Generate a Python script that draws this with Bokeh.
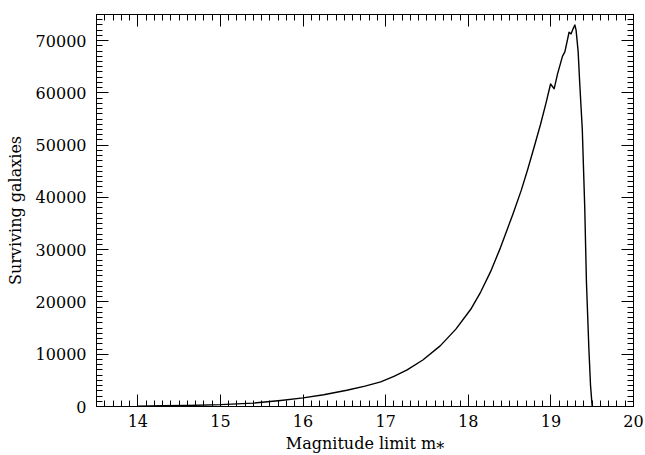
from bokeh.plotting import figure
from bokeh.models import (Range1d, LinearAxis, SingleIntervalTicker,
                          NumeralTickFormatter, CustomJSTickFormatter)
from bokeh.embed import file_html
from bokeh.resources import INLINE

# Data
mag = [14.0, 14.3, 14.6, 15.0, 15.4, 15.73, 16.0, 16.25, 16.53, 16.75, 16.94,
       17.1, 17.26, 17.45, 17.66, 17.85, 18.03, 18.15, 18.27, 18.39, 18.54,
       18.64, 18.72, 18.8, 18.875, 18.94, 18.996, 19.04, 19.08, 19.14, 19.17,
       19.22, 19.245, 19.27, 19.29, 19.305, 19.33, 19.35, 19.38, 19.41, 19.43,
       19.46, 19.48, 19.5]
galaxies = [80, 130, 200, 350, 650, 1150, 1650, 2250, 3100, 3900, 4700,
            5750, 7000, 8900, 11600, 14800, 18600, 21900, 25800, 30400, 36800,
            41300, 45400, 49800, 54000, 58000, 61700, 60800, 63600, 67000, 67900,
            71600, 71300, 72300, 73000, 72000, 67900, 61600, 53100, 38000, 24000,
            11000, 4000, 0]

x_label = "Magnitude limit m\u204e"
y_label = "Surviving galaxies"

FONT = "DejaVu Serif"

p = figure(width=645, height=455, output_backend="svg", toolbar_location=None,
           x_range=Range1d(13.5, 20), y_range=Range1d(0, 75000),
           min_border_left=96, min_border_right=12, min_border_top=14,
           min_border_bottom=47, x_axis_location=None, y_axis_location=None)
p.title = None
p.grid.visible = False
p.outline_line_color = "black"
p.outline_line_width = 1
p.background_fill_color = "white"
p.border_fill_color = "white"

p.line(mag, galaxies, line_color="black", line_width=1.4, line_join="round")


def make_axis(kind, labels):
    if kind == "x":
        ticker = SingleIntervalTicker(interval=1, num_minor_ticks=10)
    else:
        ticker = SingleIntervalTicker(interval=10000, num_minor_ticks=10)
    ax = LinearAxis(ticker=ticker)
    ax.major_tick_in = 12
    ax.major_tick_out = 0
    ax.minor_tick_in = 6
    ax.minor_tick_out = 0
    ax.axis_line_color = "black"
    ax.major_tick_line_color = "black"
    ax.minor_tick_line_color = "black"
    ax.major_label_text_font = FONT
    ax.axis_label_text_font = FONT
    ax.axis_label_text_font_style = "normal"
    ax.major_label_text_color = "black"
    ax.axis_label_text_color = "black"
    ax.major_label_text_font_size = "16px"
    ax.axis_label_text_font_size = "16px"
    if labels:
        if kind == "y":
            ax.formatter = NumeralTickFormatter(format="0")
    else:
        ax.formatter = CustomJSTickFormatter(code="return ''")
        ax.major_label_standoff = 0
    return ax


xb = make_axis("x", True)
xb.axis_label = x_label
xb.major_label_standoff = 8
xb.axis_label_standoff = 4
p.add_layout(xb, "below")

yl = make_axis("y", True)
yl.axis_label = y_label
yl.major_label_standoff = 10
yl.axis_label_standoff = 8
p.add_layout(yl, "left")

p.add_layout(make_axis("x", False), "above")
p.add_layout(make_axis("y", False), "right")

open("out.html", "w").write(file_html(p, INLINE))
